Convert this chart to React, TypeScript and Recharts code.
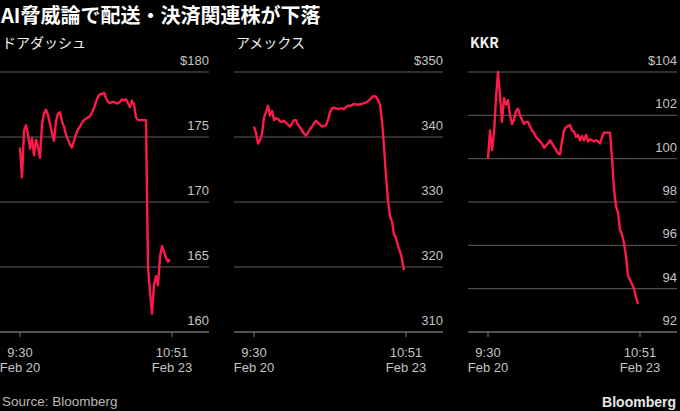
import { LineChart, Line, XAxis, YAxis, CartesianGrid } from 'recharts';

// Intraday prices, one point per step from 9:30 Feb 20 through 10:51 Feb 23
const doordash = [
  174.2, 171.9, 175.5, 175.9, 175.2, 174.1, 174.9, 173.6, 174.8, 174.2,
  173.4, 176.0, 176.8, 177.1, 176.7, 176.0, 175.3, 174.7, 176.2, 176.8,
  176.9, 176.2, 175.8, 175.2, 174.8, 174.4, 174.2, 174.7, 175.2, 175.6,
  175.8, 176.1, 176.3, 176.4, 176.5, 176.6, 176.9, 177.2, 177.7, 178.1,
  178.3, 178.3, 178.4, 178.0, 177.7, 177.6, 177.7, 177.7, 177.6, 177.6,
  177.7, 177.9, 177.8, 177.9, 177.6, 177.3, 177.8, 177.5, 176.5, 176.3,
  176.3, 176.3, 176.3, 176.3, 165.0, 163.1, 161.4, 163.6, 164.3, 163.6,
  165.8, 166.6, 166.2, 165.7, 165.4, 165.6,
];

const amex = [
  341.6, 340.6, 339.0, 339.5, 340.5, 343.0, 343.8, 344.8, 343.3, 344.0,
  342.6, 342.9, 342.8, 342.4, 342.3, 342.5, 342.2, 341.9, 341.6, 342.1,
  342.6, 342.6, 341.9, 341.5, 341.0, 340.5, 340.2, 340.7, 341.2, 341.6,
  342.1, 342.5, 342.2, 341.9, 341.6, 341.7, 341.8, 342.6, 343.8, 344.4,
  344.5, 344.4, 344.3, 344.4, 344.4, 344.3, 344.6, 344.8, 344.8, 344.9,
  345.1, 345.0, 345.0, 345.0, 345.1, 345.2, 345.3, 345.5, 345.8, 346.1,
  346.3, 346.2, 345.7, 345.0, 342.5, 338.5, 334.0, 330.2, 327.8, 327.0,
  325.0, 324.5, 323.2, 322.4, 321.2, 319.5,
];

const kkr = [
  100.0, 101.3, 100.4, 101.2, 102.8, 104.0, 102.9, 101.7, 102.8, 102.5,
  102.7, 102.0, 101.6, 101.8, 102.2, 102.3, 102.0, 101.8, 101.6, 101.7,
  101.7, 101.5, 101.3, 101.2, 101.0, 100.9, 100.8, 100.7, 100.5, 100.6,
  100.7, 100.85, 100.7, 100.55, 100.4, 100.25, 100.2, 100.8, 101.3, 101.45,
  101.5, 101.55, 101.3, 101.25, 101.0, 101.1, 100.85, 101.05, 100.85, 101.1,
  100.8, 100.9, 100.85, 100.8, 100.85, 100.8, 100.7, 101.0, 101.2, 101.2,
  101.2, 101.2, 100.0, 98.6, 97.8, 97.5, 96.7, 96.5, 96.1, 95.5,
  94.6, 94.4, 94.2, 94.0, 93.6, 93.3,
];

const doordashTicks = [160, 165, 170, 175, 180];
const amexTicks = [310, 320, 330, 340, 350];
const kkrTicks = [92, 94, 96, 98, 100, 102, 104];

const timeTicks = [0, 76];
const timeLabels = [
  ['9:30', 'Feb 20'],
  ['10:51', 'Feb 23'],
];

const panels = [
  { name: 'ドアダッシュ', values: doordash, ticks: doordashTicks },
  { name: 'アメックス', values: amex, ticks: amexTicks },
  { name: 'KKR', values: kkr, ticks: kkrTicks },
];

const LINE = '#fc1a4c';
const GRID = '#5e5e5e';
const LABEL = '#c4c4c4';
const LATIN = '"Liberation Sans", Arial, sans-serif';
const CJK = '"Noto Sans CJK JP", sans-serif';

const PANEL_W = 209;
const AXIS_W = 20;
const PANEL_LEFT = [0, 234, 468];
const CHART_TOP = 50;

// price labels sit just above their gridline, flush with its right end
function PriceTick(props: any) {
  const { x, y, payload, top } = props;
  const label = payload.value === top ? `$${payload.value}` : String(payload.value);
  return (
    <text x={x} y={y - 7} textAnchor="end" fill={LABEL} fontSize={13} fontFamily={LATIN}>
      {label}
    </text>
  );
}

function TimeTick(props: any) {
  const { x, y, payload } = props;
  const [time, day] = timeLabels[timeTicks.indexOf(payload.value)] || ['', ''];
  return (
    <g>
      <text x={x} y={y + 20} textAnchor="middle" fill={LABEL} fontSize={13} fontFamily={LATIN}>
        {time}
      </text>
      <text x={x} y={y + 35} textAnchor="middle" fill={LABEL} fontSize={13} fontFamily={LATIN}>
        {day}
      </text>
    </g>
  );
}

function Panel({ name, values, ticks, left }: { name: string; values: number[]; ticks: number[]; left: number }) {
  const data = values.map((v, i) => ({ i, v }));
  const lo = ticks[0];
  const hi = ticks[ticks.length - 1];
  return (
    <>
      <div
        style={{
          position: 'absolute',
          left: left + 2,
          top: 32,
          fontSize: 14,
          lineHeight: '20px',
          color: '#f0f0f0',
          fontFamily: CJK,
          fontWeight: name === 'KKR' ? 700 : 400,
        }}
      >
        {name}
      </div>
      <div style={{ position: 'absolute', left, top: CHART_TOP }}>
        <LineChart
          width={PANEL_W + AXIS_W}
          height={360}
          data={data}
          margin={{ top: 22, right: 0, bottom: 38, left: 0 }}
        >
          <CartesianGrid horizontal vertical={false} stroke={GRID} strokeWidth={1} />
          <XAxis
            dataKey="i"
            type="number"
            domain={[-10, 94.5]}
            ticks={timeTicks}
            interval={0}
            height={40}
            axisLine={{ stroke: '#777', strokeWidth: 1 }}
            tickLine={{ stroke: '#777' }}
            tickSize={5}
            tickMargin={0}
            tick={(p: any) => <TimeTick {...p} />}
          />
          <YAxis
            orientation="right"
            width={AXIS_W}
            domain={[lo, hi]}
            ticks={ticks}
            interval={0}
            axisLine={false}
            tickLine={false}
            tickSize={0}
            tickMargin={0}
            tick={(p: any) => <PriceTick {...p} top={hi} />}
          />
          <Line
            type="linear"
            dataKey="v"
            stroke={LINE}
            strokeWidth={2.4}
            strokeLinejoin="round"
            dot={false}
            isAnimationActive={false}
          />
        </LineChart>
      </div>
    </>
  );
}

export default function App() {
  return (
    <div
      style={{
        position: 'absolute',
        left: 0,
        top: 0,
        width: 680,
        height: 411,
        background: '#000',
        overflow: 'hidden',
      }}
    >
      <div
        style={{
          position: 'absolute',
          left: 1,
          top: 0,
          fontSize: 20,
          lineHeight: '29px',
          fontWeight: 700,
          color: '#fff',
          fontFamily: CJK,
          whiteSpace: 'nowrap',
        }}
      >
        AI脅威論で配送・決済関連株が下落
      </div>
      {panels.map((p, k) => (
        <Panel key={p.name} name={p.name} values={p.values} ticks={p.ticks} left={PANEL_LEFT[k]} />
      ))}
      <div
        style={{
          position: 'absolute',
          left: 2,
          top: 393,
          fontSize: 13.5,
          lineHeight: '18px',
          color: '#b8b8b8',
          fontFamily: LATIN,
        }}
      >
        Source: Bloomberg
      </div>
      <div
        style={{
          position: 'absolute',
          right: 4,
          top: 393,
          fontSize: 14,
          lineHeight: '18px',
          fontWeight: 700,
          color: '#e8e8e8',
          fontFamily: LATIN,
        }}
      >
        Bloomberg
      </div>
    </div>
  );
}
